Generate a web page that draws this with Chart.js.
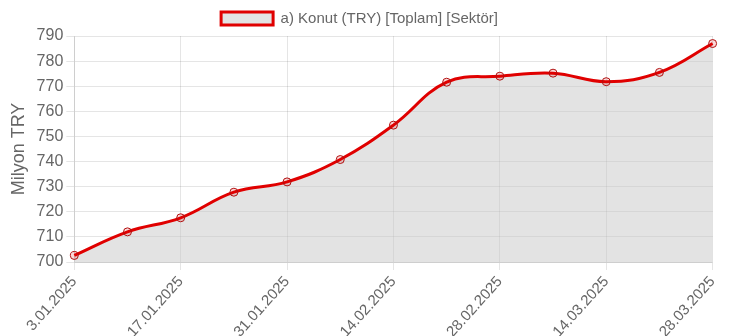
<!DOCTYPE html>
<html>
<head>
<meta charset="utf-8">
<script src="https://cdn.jsdelivr.net/npm/chart.js@4/dist/chart.umd.min.js"></script>
<style>
  html, body { margin: 0; padding: 0; background: #fff; }
  #wrap { width: 729px; height: 336px; }
</style>
</head>
<body>
<div id="wrap"><canvas id="konutChart"></canvas></div>
<script>
var dates = ['3.01.2025', '10.01.2025', '17.01.2025', '24.01.2025', '31.01.2025', '7.02.2025',
    '14.02.2025', '21.02.2025', '28.02.2025', '7.03.2025', '14.03.2025', '21.03.2025', '28.03.2025'];
var konutValues = [702.6, 712.0, 717.6, 727.8, 731.9, 740.8, 754.5, 771.6, 774.0, 775.2, 771.8, 775.5, 787.0];
var seriesLabel = 'a) Konut (TRY) [Toplam] [Sektör]';
var axisTitle = 'Milyon TRY';

Chart.defaults.font.family = '"Helvetica Neue", Helvetica, Arial, "Liberation Sans", sans-serif';
Chart.defaults.color = '#666';

var ctx = document.getElementById('konutChart').getContext('2d');
new Chart(ctx, {
    type: 'line',
    data: {
        labels: dates,
        datasets: [{
            label: seriesLabel,
            data: konutValues,
            fill: true,
            backgroundColor: 'rgba(200, 200, 200, 0.5)',
            borderColor: '#e00000',
            borderWidth: 3,
            tension: 0.4,
            pointRadius: 4,
            pointBorderWidth: 1,
            pointBorderColor: '#b01010',
            pointBackgroundColor: 'rgba(220, 0, 0, 0.15)'
        }]
    },
    options: {
        responsive: true,
        maintainAspectRatio: false,
        animation: false,
        layout: { padding: { right: 14, left: 4, top: 1 } },
        plugins: {
            legend: {
                labels: {
                    boxWidth: 52,
                    boxHeight: 13,
                    font: { size: 15 },
                    padding: 10
                }
            },
            tooltip: { enabled: false }
        },
        scales: {
            x: {
                ticks: {
                    font: { size: 15 },
                    maxRotation: 48,
                    minRotation: 48,
                    autoSkip: true,
                    maxTicksLimit: 7
                },
                grid: { color: 'rgba(0, 0, 0, 0.1)' },
                // rotated date labels run to the bottom edge
                afterFit: function(scale) { scale.height = 74; }
            },
            y: {
                min: 700,
                max: 790,
                ticks: { stepSize: 10, font: { size: 16 } },
                title: { display: true, text: axisTitle, font: { size: 18 } },
                grid: { color: 'rgba(0, 0, 0, 0.1)' }
            }
        }
    }
});
</script>
</body>
</html>
